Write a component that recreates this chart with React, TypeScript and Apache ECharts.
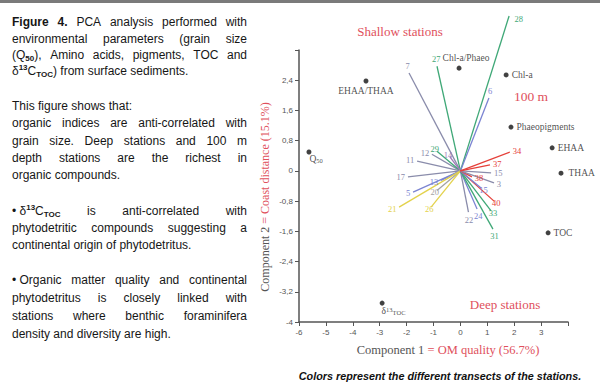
import React, { useEffect, useRef } from 'react';
import * as echarts from 'echarts';

// ---------- data ----------
const X_MIN = -6;
const X_MAX = 4;
const X_STEP = 1;
const Y_MIN = -4;
const Y_MAX = 3.2;
const Y_STEP = 0.8;

// station vectors (loadings) drawn from the origin
const STATION_LABELS = ['28', '27', '6', '7', '12', '29', '14', '11', '17', '13', '5', '20', '21', '26', '22', '24', '33', '31', '40', '15', '38', '3', '15', '37', '34'];
const STATION_X = [1.81, -0.87, 1.06, -1.91, -1.06, -0.87, -0.39, -1.61, -1.95, -0.72, -1.76, -0.87, -2.28, -1.09, 0.3, 0.62, 1.14, 1.21, 1.25, 0.77, 0.43, 1.25, 1.14, 1.1, 1.84];
const STATION_Y = [4.1, 2.77, 1.93, 2.59, 0.44, 0.52, 0.37, 0.26, -0.16, -0.25, -0.56, -0.52, -0.96, -0.96, -1.09, -1.01, -1.06, -1.54, -0.8, -0.45, -0.16, -0.32, -0.05, 0.16, 0.5];
const STATION_TRANSECT = ['green', 'green', 'blue', 'slate', 'slate', 'green', 'purple', 'slate', 'slate', 'blue', 'blue', 'gray', 'yellow', 'yellow', 'slate', 'blue', 'green', 'green', 'red', 'blue', 'red', 'slate', 'slate', 'red', 'red'];

// environmental variables
const VARIABLE_NAMES = ['EHAA/THAA', 'Chl-a/Phaeo', 'Chl-a', 'Phaeopigments', 'EHAA', 'THAA', 'TOC', 'Q50', 'δ13TOC'];
const VARIABLE_X = [-3.51, -0.05, 1.7, 1.88, 3.41, 3.74, 3.26, -5.63, -2.91];
const VARIABLE_Y = [2.38, 2.72, 2.54, 1.16, 0.61, -0.06, -1.64, 0.5, -3.5];

const CAPTION_LINES = [
  '{b|Figure} {b|4.} PCA analysis performed with',
  'environmental parameters (grain size',
  '(Q{sub|50}), Amino acids, pigments, TOC and',
  'δ{sup|13}C{sub|TOC}) from surface sediments.',
  'This figure shows that:',
  'organic indices are anti-correlated with',
  'grain size. Deep stations and 100 m',
  'depth stations are the richest in',
  'organic compounds.',
  '•\u00a0δ{sup|13}C{sub|TOC} is anti-correlated with',
  'phytodetritic compounds suggesting a',
  'continental origin of phytodetritus.',
  '•\u00a0Organic matter quality and continental',
  'phytodetritus is closely linked with',
  'stations where benthic foraminifera',
  'density and diversity are high.',
];
const CAPTION_JUSTIFY = [true, true, true, false, false, true, true, true, false, true, true, false, true, true, true, false];

// ---------- layout / style ----------
const CAPTION_Y = [22, 39, 55, 71, 106, 123, 141, 158, 175, 211, 228, 245, 280, 298, 316, 334];
const CAPTION_LEFT = 12;
const CAPTION_RIGHT = 247;
const SANS = '"Liberation Sans", Arial, sans-serif';
const SERIF = '"Liberation Serif", "Times New Roman", serif';
const BASE = 12;
const SMALL = 8;
const RED = '#e0505c';

const TRANSECT_COLORS: Record<string, string> = {
  green: '#3fa877',
  slate: '#8a8cab',
  blue: '#7b84d2',
  red: '#e5403a',
  yellow: '#e3d24c',
  gray: '#a3a3a3',
  purple: '#a07ab8',
};

const VARIABLE_LABEL_TEXT = ['EHAA/THAA', 'Chl-a/Phaeo', 'Chl-a', 'Phaeopigments', 'EHAA', 'THAA', 'TOC', 'Q{s|50}', 'δ{p|13}{s|TOC}'];
const VARIABLE_LABEL_POS = ['bottom', 'top', 'right', 'right', 'right', 'right', 'right', 'right', 'right'];
const VARIABLE_LABEL_OFFSET = [[0, 0], [7, 0], [0, 0], [0, 0], [0, 0], [2, 0], [0, 0], [-5, 7], [-6, 8]];

function parseSegs(word: string) {
  const re = /\{(\w+)\|([^}]*)\}|([^{]+)/g;
  const out: { k: string; t: string }[] = [];
  let m;
  while ((m = re.exec(word))) {
    if (m[1]) out.push({ k: m[1], t: m[2] });
    else out.push({ k: 'n', t: m[3] });
  }
  return out;
}

function fontFor(k: string) {
  if (k === 'b') return `bold ${BASE}px ${SANS}`;
  if (k === 'sub' || k === 'sup') return `bold ${SMALL}px ${SANS}`;
  return `${BASE}px ${SANS}`;
}

function buildCaption() {
  const canvas = document.createElement('canvas');
  const ctx = canvas.getContext('2d') as CanvasRenderingContext2D;
  const measure = (t: string, k: string) => {
    ctx.font = fontFor(k);
    return ctx.measureText(t).width;
  };
  const spaceW = measure(' ', 'n');
  const rich = {
    b: { fontWeight: 'bold', fontSize: BASE, fontFamily: SANS, lineHeight: 15 },
    sub: { fontWeight: 'bold', fontSize: SMALL, fontFamily: SANS, lineHeight: 9, verticalAlign: 'bottom' },
    sup: { fontWeight: 'bold', fontSize: SMALL, fontFamily: SANS, lineHeight: 9, verticalAlign: 'top' },
  };
  const els: any[] = [];
  CAPTION_LINES.forEach((line, li) => {
    const words = line.split(' ');
    const widths = words.map((w) => parseSegs(w).reduce((s, sg) => s + measure(sg.t, sg.k), 0));
    const total = widths.reduce((a, b) => a + b, 0);
    let gap = spaceW;
    if (CAPTION_JUSTIFY[li] && words.length > 1) {
      gap = Math.max(spaceW * 0.6, (CAPTION_RIGHT - CAPTION_LEFT - total) / (words.length - 1));
    }
    let x = CAPTION_LEFT;
    words.forEach((w, wi) => {
      els.push({
        type: 'text',
        x,
        y: CAPTION_Y[li],
        silent: true,
        style: {
          text: w,
          fontSize: BASE,
          fontFamily: SANS,
          fill: '#161616',
          lineHeight: 15,
          verticalAlign: 'middle',
          align: 'left',
          rich,
        },
      });
      x += widths[wi] + gap;
    });
  });
  return els;
}

function fmtY(v: number) {
  const r = Math.round(v * 10) / 10;
  if (r > Y_MAX - 0.05) return '';
  if (Number.isInteger(r)) return String(r);
  return r.toFixed(1).replace('.', ',');
}

export default function App() {
  const ref = useRef<HTMLDivElement>(null);
  useEffect(() => {
    document.body.style.margin = '0';
    if (!ref.current) return;
    const chart = echarts.init(ref.current, undefined, { renderer: 'svg' });

    const lineData = STATION_LABELS.map((name, i) => {
      const c = TRANSECT_COLORS[STATION_TRANSECT[i]];
      const item: any = {
        name,
        coords: [[0, 0], [STATION_X[i], STATION_Y[i]]],
        lineStyle: { color: c },
        label: { color: c },
      };
      if (i === 0) {
        // label beside the tip of the long vector, as in the reference
        item.label = { color: c, distance: -8, padding: [0, 0, 0, 24] };
      }
      return item;
    });

    const pointData = VARIABLE_NAMES.map((name, i) => ({
      name,
      value: [VARIABLE_X[i], VARIABLE_Y[i]],
      label: {
        position: VARIABLE_LABEL_POS[i],
        offset: VARIABLE_LABEL_OFFSET[i],
        formatter: VARIABLE_LABEL_TEXT[i],
      },
    }));

    const option: any = {
      animation: false,
      backgroundColor: '#ffffff',
      grid: { left: 299, right: 32, top: 50, bottom: 63, containLabel: false },
      xAxis: {
        type: 'value',
        min: X_MIN,
        max: X_MAX,
        interval: X_STEP,
        axisLine: { onZero: false, lineStyle: { color: '#555', width: 1.5 } },
        axisTick: { show: true, length: 4, lineStyle: { color: '#555' } },
        axisLabel: {
          fontSize: 8,
          fontFamily: SANS,
          color: '#555',
          margin: 6,
          formatter: (v: number) => (v >= X_MAX ? '' : String(v)),
        },
        splitLine: { show: false },
      },
      yAxis: {
        type: 'value',
        min: Y_MIN,
        max: Y_MAX,
        interval: Y_STEP,
        axisLine: { onZero: false, lineStyle: { color: '#555', width: 1.5 } },
        axisTick: { show: true, length: 4, lineStyle: { color: '#555' } },
        axisLabel: { fontSize: 8, fontFamily: SANS, color: '#555', margin: 6, formatter: fmtY },
        splitLine: { show: false },
      },
      series: [
        {
          type: 'lines',
          coordinateSystem: 'cartesian2d',
          clip: false,
          symbol: ['none', 'none'],
          lineStyle: { width: 1.3, opacity: 1 },
          label: {
            show: true,
            position: 'end',
            distance: 3,
            formatter: '{b}',
            fontSize: 8.5,
            fontFamily: SERIF,
          },
          data: lineData,
          z: 2,
        },
        {
          type: 'scatter',
          symbol: 'circle',
          symbolSize: 5,
          itemStyle: { color: '#111' },
          label: {
            show: true,
            fontSize: 9.5,
            fontFamily: SERIF,
            color: '#222',
            distance: 3,
            rich: {
              s: { fontSize: 6.5, fontFamily: SERIF, color: '#222', verticalAlign: 'bottom', lineHeight: 8 },
              p: { fontSize: 6.5, fontFamily: SERIF, color: '#222', verticalAlign: 'top', lineHeight: 8 },
            },
          },
          data: pointData,
          z: 3,
        },
      ],
      graphic: [
        { type: 'rect', shape: { x: 0, y: 0, width: 600, height: 3 }, style: { fill: '#7a7a7a' }, silent: true },
        {
          type: 'text',
          x: 400,
          y: 31,
          style: { text: 'Shallow stations', fontSize: 13, fontFamily: SERIF, fill: RED, align: 'center', verticalAlign: 'middle' },
        },
        {
          type: 'text',
          x: 531,
          y: 96,
          style: { text: '100 m', fontSize: 13.5, fontFamily: SERIF, fill: RED, align: 'center', verticalAlign: 'middle' },
        },
        {
          type: 'text',
          x: 505,
          y: 304,
          style: { text: 'Deep stations', fontSize: 13, fontFamily: SERIF, fill: RED, align: 'center', verticalAlign: 'middle' },
        },
        {
          type: 'text',
          x: 448,
          y: 350,
          style: {
            text: '{g|Component 1 }{r|= OM quality (56.7%)}',
            align: 'center',
            verticalAlign: 'middle',
            rich: {
              g: { fontSize: 12.5, fontFamily: SERIF, fill: '#555', color: '#555' },
              r: { fontSize: 12.5, fontFamily: SERIF, fill: RED, color: RED },
            },
          },
        },
        {
          type: 'text',
          x: 265,
          y: 197,
          rotation: Math.PI / 2,
          style: {
            text: '{g|Component 2 }{r|= Coast distance (15.1%)}',
            align: 'center',
            verticalAlign: 'middle',
            rich: {
              g: { fontSize: 12, fontFamily: SERIF, fill: '#555', color: '#555' },
              r: { fontSize: 12, fontFamily: SERIF, fill: RED, color: RED },
            },
          },
        },
        {
          type: 'text',
          x: 440,
          y: 376,
          style: {
            text: 'Colors represent the different transects of the stations.',
            fontSize: 10.8,
            fontStyle: 'italic',
            fontWeight: 'bold',
            fontFamily: SANS,
            fill: '#111',
            align: 'center',
            verticalAlign: 'middle',
          },
        },
        ...buildCaption(),
      ],
    };
    chart.setOption(option);
    return () => chart.dispose();
  }, []);
  return <div ref={ref} style={{ width: 600, height: 385 }} />;
}
